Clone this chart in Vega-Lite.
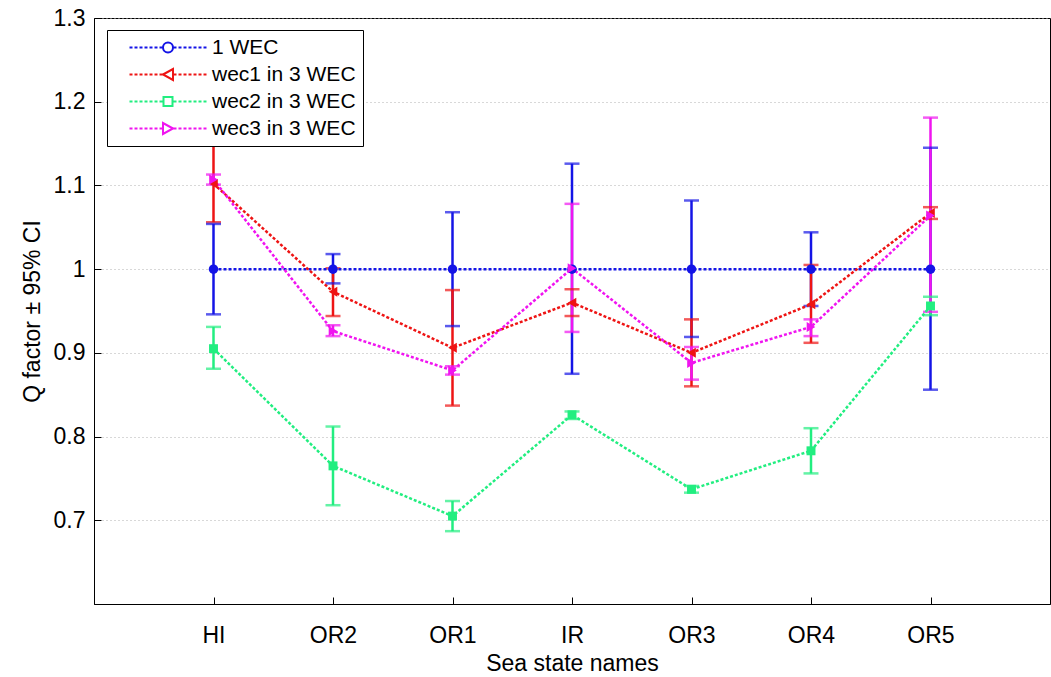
{
  "$schema": "https://vega.github.io/schema/vega-lite/v6.json",
  "width": 956,
  "height": 586,
  "autosize": {"type": "none"},
  "padding": {"left": 94, "top": 18, "right": 1, "bottom": 73},
  "background": "white",
  "config": {
    "font": "Liberation Sans",
    "view": {"stroke": "black", "strokeWidth": 1},
    "legend": {"orient": "none", "legendX": 13, "legendY": 12, "title": null,
            "strokeColor": "black", "fillColor": "white", "padding": 7, "rowPadding": 5,
            "labelFontSize": 21, "labelColor": "black", "labelOffset": 77, "labelLimit": 400,
            "symbolSize": 100, "symbolStrokeWidth": 2, "symbolOpacity": 1, "cornerRadius": 0},
    "axis": {
      "domainColor": "black",
      "domainWidth": 1,
      "tickColor": "black",
      "tickSize": -7,
      "tickWidth": 1,
      "gridColor": "#b0b0b0",
      "gridDash": [1, 3],
      "gridWidth": 1,
      "labelColor": "black",
      "labelFontSize": 23,
      "titleColor": "black",
      "titleFontSize": 23,
      "titleFontWeight": "normal"
    },
    "axisX": {"labelPadding": 27, "titlePadding": 5, "labelAngle": 0},
    "axisY": {"labelPadding": 16, "titlePadding": 9, "format": "~g"}
  },
  "data": {
    "values": [
      {"state": "HI", "series": "1 WEC", "q": 1.000, "lo": 0.946, "hi": 1.054},
      {"state": "HI", "series": "wec1 in 3 WEC", "q": 1.102, "lo": 1.056, "hi": 1.149},
      {"state": "HI", "series": "wec2 in 3 WEC", "q": 0.905, "lo": 0.881, "hi": 0.931},
      {"state": "HI", "series": "wec3 in 3 WEC", "q": 1.107, "lo": 1.101, "hi": 1.113},
      {"state": "OR2", "series": "1 WEC", "q": 1.000, "lo": 0.983, "hi": 1.018},
      {"state": "OR2", "series": "wec1 in 3 WEC", "q": 0.973, "lo": 0.944, "hi": 1.001},
      {"state": "OR2", "series": "wec2 in 3 WEC", "q": 0.765, "lo": 0.718, "hi": 0.812},
      {"state": "OR2", "series": "wec3 in 3 WEC", "q": 0.926, "lo": 0.920, "hi": 0.933},
      {"state": "OR1", "series": "1 WEC", "q": 1.000, "lo": 0.932, "hi": 1.068},
      {"state": "OR1", "series": "wec1 in 3 WEC", "q": 0.906, "lo": 0.837, "hi": 0.975},
      {"state": "OR1", "series": "wec2 in 3 WEC", "q": 0.705, "lo": 0.687, "hi": 0.723},
      {"state": "OR1", "series": "wec3 in 3 WEC", "q": 0.879, "lo": 0.874, "hi": 0.884},
      {"state": "IR", "series": "1 WEC", "q": 1.000, "lo": 0.875, "hi": 1.126},
      {"state": "IR", "series": "wec1 in 3 WEC", "q": 0.960, "lo": 0.944, "hi": 0.976},
      {"state": "IR", "series": "wec2 in 3 WEC", "q": 0.826, "lo": 0.821, "hi": 0.830},
      {"state": "IR", "series": "wec3 in 3 WEC", "q": 1.001, "lo": 0.925, "hi": 1.078},
      {"state": "OR3", "series": "1 WEC", "q": 1.000, "lo": 0.919, "hi": 1.082},
      {"state": "OR3", "series": "wec1 in 3 WEC", "q": 0.900, "lo": 0.860, "hi": 0.940},
      {"state": "OR3", "series": "wec2 in 3 WEC", "q": 0.737, "lo": 0.733, "hi": 0.741},
      {"state": "OR3", "series": "wec3 in 3 WEC", "q": 0.888, "lo": 0.868, "hi": 0.907},
      {"state": "OR4", "series": "1 WEC", "q": 1.000, "lo": 0.956, "hi": 1.044},
      {"state": "OR4", "series": "wec1 in 3 WEC", "q": 0.958, "lo": 0.912, "hi": 1.005},
      {"state": "OR4", "series": "wec2 in 3 WEC", "q": 0.783, "lo": 0.756, "hi": 0.810},
      {"state": "OR4", "series": "wec3 in 3 WEC", "q": 0.931, "lo": 0.920, "hi": 0.940},
      {"state": "OR5", "series": "1 WEC", "q": 1.000, "lo": 0.856, "hi": 1.145},
      {"state": "OR5", "series": "wec1 in 3 WEC", "q": 1.067, "lo": 1.060, "hi": 1.074},
      {"state": "OR5", "series": "wec2 in 3 WEC", "q": 0.956, "lo": 0.945, "hi": 0.967},
      {"state": "OR5", "series": "wec3 in 3 WEC", "q": 1.064, "lo": 0.949, "hi": 1.181}
    ]
  },
  "encoding": {
    "x": {
      "field": "state",
      "type": "ordinal",
      "title": "Sea state names",
      "scale": {"type": "point", "padding": 1, "domain": ["HI", "OR2", "OR1", "IR", "OR3", "OR4", "OR5"]},
      "sort": null
    }
  },
  "layer": [
    {
      "mark": {"type": "rule", "strokeWidth": 2.5},
      "encoding": {
        "y": {"field": "lo", "type": "quantitative", "title": "Q factor ± 95% CI", "scale": {"domain": [0.6, 1.3]}, "axis": {"values": [0.7, 0.8, 0.9, 1.0, 1.1, 1.2, 1.3]}},
        "y2": {"field": "hi"},
        "stroke": {"field": "series", "type": "nominal", "legend": null,
          "scale": {"range": ["#1414e6", "#ee1414", "#22ee80", "#f014f0"]}}
      }
    },
    {
      "mark": {"type": "tick", "orient": "horizontal", "size": 15, "thickness": 2.5},
      "encoding": {
        "y": {"field": "lo", "type": "quantitative", "title": "Q factor ± 95% CI", "scale": {"domain": [0.6, 1.3]}, "axis": {"values": [0.7, 0.8, 0.9, 1.0, 1.1, 1.2, 1.3]}},
        "fill": {"field": "series", "type": "nominal", "legend": null,
          "scale": {"range": ["#1414e6", "#ee1414", "#22ee80", "#f014f0"]}}
      }
    },
    {
      "mark": {"type": "tick", "orient": "horizontal", "size": 15, "thickness": 2.5},
      "encoding": {
        "y": {"field": "hi", "type": "quantitative", "title": "Q factor ± 95% CI", "scale": {"domain": [0.6, 1.3]}, "axis": {"values": [0.7, 0.8, 0.9, 1.0, 1.1, 1.2, 1.3]}},
        "fill": {"field": "series", "type": "nominal", "legend": null,
          "scale": {"range": ["#1414e6", "#ee1414", "#22ee80", "#f014f0"]}}
      }
    },
    {
      "mark": {"type": "line", "strokeWidth": 2.5, "strokeDash": [3, 2]},
      "encoding": {
        "y": {"field": "q", "type": "quantitative", "title": "Q factor ± 95% CI", "scale": {"domain": [0.6, 1.3]}, "axis": {"values": [0.7, 0.8, 0.9, 1.0, 1.1, 1.2, 1.3]}},
        "stroke": {"field": "series", "type": "nominal", "legend": null,
          "scale": {"range": ["#1414e6", "#ee1414", "#22ee80", "#f014f0"]}},
        "order": {"value": null}
      }
    },
    {
      "transform": [{"filter": "datum.series === '1 WEC'"}],
      "mark": {"type": "point", "shape": "circle", "filled": true, "size": 90, "opacity": 1},
      "encoding": {
        "y": {"field": "q", "type": "quantitative", "title": "Q factor ± 95% CI", "scale": {"domain": [0.6, 1.3]}, "axis": {"values": [0.7, 0.8, 0.9, 1.0, 1.1, 1.2, 1.3]}},
        "fill": {"field": "series", "type": "nominal", "legend": null,
          "scale": {"range": ["#1414e6", "#ee1414", "#22ee80", "#f014f0"]}}
      }
    },
    {
      "transform": [{"filter": "datum.series === 'wec1 in 3 WEC'"}],
      "mark": {"type": "point", "shape": "triangle-left", "filled": true, "size": 100, "opacity": 1},
      "encoding": {
        "y": {"field": "q", "type": "quantitative", "title": "Q factor ± 95% CI", "scale": {"domain": [0.6, 1.3]}, "axis": {"values": [0.7, 0.8, 0.9, 1.0, 1.1, 1.2, 1.3]}},
        "fill": {"field": "series", "type": "nominal", "legend": null,
          "scale": {"range": ["#1414e6", "#ee1414", "#22ee80", "#f014f0"]}}
      }
    },
    {
      "transform": [{"filter": "datum.series === 'wec2 in 3 WEC'"}],
      "mark": {"type": "point", "shape": "square", "filled": true, "size": 80, "opacity": 1},
      "encoding": {
        "y": {"field": "q", "type": "quantitative", "title": "Q factor ± 95% CI", "scale": {"domain": [0.6, 1.3]}, "axis": {"values": [0.7, 0.8, 0.9, 1.0, 1.1, 1.2, 1.3]}},
        "fill": {"field": "series", "type": "nominal", "legend": null,
          "scale": {"range": ["#1414e6", "#ee1414", "#22ee80", "#f014f0"]}}
      }
    },
    {
      "transform": [{"filter": "datum.series === 'wec3 in 3 WEC'"}],
      "mark": {"type": "point", "shape": "triangle-right", "filled": true, "size": 100, "opacity": 1},
      "encoding": {
        "y": {"field": "q", "type": "quantitative", "title": "Q factor ± 95% CI", "scale": {"domain": [0.6, 1.3]}, "axis": {"values": [0.7, 0.8, 0.9, 1.0, 1.1, 1.2, 1.3]}},
        "fill": {"field": "series", "type": "nominal", "legend": null,
          "scale": {"range": ["#1414e6", "#ee1414", "#22ee80", "#f014f0"]}}
      }
    },
    {
      "mark": {"type": "point", "filled": false, "strokeWidth": 2, "size": 100, "opacity": 0},
      "encoding": {
        "y": {"field": "q", "type": "quantitative", "title": "Q factor ± 95% CI", "scale": {"domain": [0.6, 1.3]}, "axis": {"values": [0.7, 0.8, 0.9, 1.0, 1.1, 1.2, 1.3]}},
        "color": {
          "field": "series",
          "type": "nominal",
          "scale": {
            "domain": ["1 WEC", "wec1 in 3 WEC", "wec2 in 3 WEC", "wec3 in 3 WEC"],
            "range": ["#1414e6", "#ee1414", "#22ee80", "#f014f0"]
          },
          "legend": {"symbolOpacity": 1}
        },
        "shape": {
          "field": "series",
          "type": "nominal",
          "scale": {
            "domain": ["1 WEC", "wec1 in 3 WEC", "wec2 in 3 WEC", "wec3 in 3 WEC"],
            "range": [
              "M1,0H1.6M2,0H2.6M3,0H3.6M4,0H4.6M5,0H5.6M6,0H6.6M7,0H7.6M9.8,0H10.4M10.8,0H11.4M11.8,0H12.4M12.8,0H13.4M13.8,0H14.4M14.8,0H15.4M15.8,0H16.4M9.7,0A1,1 0 1,0 7.7,0A1,1 0 1,0 9.7,0Z",
              "M1,0H1.6M2,0H2.6M3,0H3.6M4,0H4.6M5,0H5.6M6,0H6.6M7,0H7.6M9.8,0H10.4M10.8,0H11.4M11.8,0H12.4M12.8,0H13.4M13.8,0H14.4M14.8,0H15.4M15.8,0H16.4M7.7,0L9.7,-1.1L9.7,1.1Z",
              "M1,0H1.6M2,0H2.6M3,0H3.6M4,0H4.6M5,0H5.6M6,0H6.6M7,0H7.6M9.8,0H10.4M10.8,0H11.4M11.8,0H12.4M12.8,0H13.4M13.8,0H14.4M14.8,0H15.4M15.8,0H16.4M7.8,-0.9H9.6V0.9H7.8Z",
              "M1,0H1.6M2,0H2.6M3,0H3.6M4,0H4.6M5,0H5.6M6,0H6.6M7,0H7.6M9.8,0H10.4M10.8,0H11.4M11.8,0H12.4M12.8,0H13.4M13.8,0H14.4M14.8,0H15.4M15.8,0H16.4M9.7,0L7.7,-1.1L7.7,1.1Z"
            ]
          },
          "legend": {"symbolOpacity": 1}
        }
      }
    }
  ]
}
